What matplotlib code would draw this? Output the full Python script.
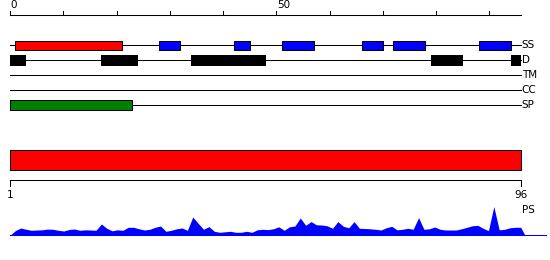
import numpy as np
import matplotlib
matplotlib.use("Agg")
import matplotlib.pyplot as plt

# domain features (start, end) in residue units
ss_red = [(1, 21)]
ss_blue = [(28, 32), (42, 45), (51, 57), (66, 70), (72, 78), (88, 94)]
disorder = [(0, 3), (17, 24), (34, 48), (79, 85), (94, 96)]
signal = [(0, 23)]
track_names = ["SS", "D", "TM", "CC", "SP"]
seq_len = 96
top_ticks = [0, 10, 20, 30, 40, 50, 60, 70, 80, 90]
top_ticklabels = {0: "0", 50: "50"}

# PS bar + profile
ps_span = (1, 96)
profile = [0, 4.7, 7.3, 6, 5, 5.3, 5.5, 6.2, 6, 5, 4.3, 5.8, 6.3, 5, 5.5, 5.3,
           5, 11.3, 7, 4.5, 5.5, 5, 8, 8, 6.5, 5.3, 6, 8, 9.3, 4, 5, 6.5,
           7.3, 5, 18.3, 12, 6, 8.7, 4, 3, 3.5, 4, 3, 3, 4, 3, 5.5, 6,
           5.7, 6.5, 8.5, 5, 8.5, 9.3, 17.3, 10, 13.7, 10.5, 10.3, 9.5, 7, 13.7,
           9, 7.5, 13.7, 7, 6.8, 6.5, 6, 5.3, 7.5, 9, 5.5, 6, 7, 6,
           17.7, 6, 6.5, 8.3, 6, 5.3, 5.3, 5.3, 6.5, 8, 9.5, 10, 7, 4.7,
           28.7, 5.5, 6, 7.5, 8, 8]
residues = np.arange(1, len(profile) + 1)

W, H = 550, 260
fig = plt.figure(figsize=(W / 100, H / 100), dpi=100)
plt.rcParams['font.family'] = ['DejaVu Sans']
lw = 0.75

# top axes: 0 -> px 10, 96 -> px 521
ax = fig.add_axes([0, 0, 1, 1])
sc = (521.3 - 10) / seq_len
ax.set_xlim(-10 / sc, (W - 10) / sc)
ax.set_ylim(H, 0)
ax.axis("off")

# ruler
ax.plot([0, seq_len], [15, 15], color="black", lw=lw)
for t in top_ticks:
    ax.plot([t, t], [15, 10.5], color="black", lw=lw)
    if t in top_ticklabels:
        ax.text(t + 0.1, 10.5, top_ticklabels[t], ha="left", va="bottom", fontsize=7.5)

rows_y = [45.3, 60.3, 75.3, 90.3, 105.3]
for name, y in zip(track_names, rows_y):
    ax.plot([0, seq_len], [y, y], color="black", lw=lw, zorder=1)
    ax.text(seq_len + 0.1, y, name, ha="left", va="center", fontsize=7.5)

for s, e in ss_red:
    ax.barh(rows_y[0], e - s, left=s, height=9, color="#ff0000", edgecolor="black", lw=lw, zorder=2)
for s, e in ss_blue:
    ax.barh(rows_y[0], e - s, left=s, height=9, color="#0000ff", edgecolor="black", lw=lw, zorder=2)
for s, e in disorder:
    ax.barh(rows_y[1], e - s, left=s, height=10.5, color="black", edgecolor="black", lw=0, zorder=2)
for s, e in signal:
    ax.barh(rows_y[4], e - s, left=s, height=10, color="#008000", edgecolor="black", lw=lw, zorder=2)

# bottom axes: 1 -> px 10, 96 -> px 520.7
ax2 = fig.add_axes([0, 0, 1, 1])
sc2 = (520.7 - 10) / (ps_span[1] - ps_span[0])
ax2.set_xlim(ps_span[0] - 10 / sc2, ps_span[0] + (W - 10) / sc2)
ax2.set_ylim(H, 0)
ax2.axis("off")
ax2.patch.set_alpha(0)

ax2.barh(160.3, ps_span[1] - ps_span[0], left=ps_span[0], height=20,
         color="#ff0000", edgecolor="black", lw=lw)
ax2.plot([ps_span[0], ps_span[1]], [180.3, 180.3], color="black", lw=lw)
for t in ps_span:
    ax2.plot([t, t], [180.3, 185.5], color="black", lw=lw)
    ax2.text(t, 189.5, str(t), ha="center", va="top", fontsize=7.5)
ax2.text(ps_span[1] + 0.15, 205, "PS", ha="left", va="top", fontsize=7.5)

base = 235.3
px = np.append(residues, residues[-1] + 0.8)
py = np.append(profile, 0)
ax2.fill_between(px, base - py, base, color="#0000ff", lw=0)
ax2.plot([ps_span[0], 100.7], [base, base], color="#0000ff", lw=lw)

fig.savefig("out.png", dpi=100)
